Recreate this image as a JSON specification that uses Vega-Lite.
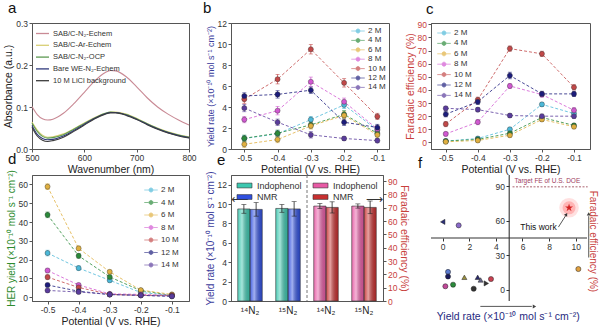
{
"$schema": "https://vega.github.io/schema/vega-lite/v6.json",
"padding": {"left": 3, "top": 0, "right": 0, "bottom": 0},
"background": "white",
"config": {
  "font": "Liberation Sans",
  "view": {"stroke": "#555", "strokeWidth": 1},
  "axis": {"grid": false, "labelFontSize": 8.5, "labelColor": "#333", "titleFontSize": 10.5, "titleFontWeight": "normal", "titleColor": "#222", "tickColor": "#555", "domainColor": "#555", "tickSize": 3, "labelPadding": 1.5, "titlePadding": 2, "titleLimit": 400, "labelFlush": false, "labelOverlap": false},
  "title": {"fontSize": 15, "fontWeight": "normal", "anchor": "start", "frame": "group", "offset": 3, "color": "#111"},
  "legend": {"labelFontSize": 8, "labelColor": "#333", "rowPadding": 1, "padding": 0, "labelOffset": 5}
},
"datasets": {
  "uv": [
    {"w":500,"s":"SAB/C-N₂-Echem","a":0.101},{"w":510,"s":"SAB/C-N₂-Echem","a":0.082},{"w":520,"s":"SAB/C-N₂-Echem","a":0.072},{"w":530,"s":"SAB/C-N₂-Echem","a":0.069},{"w":540,"s":"SAB/C-N₂-Echem","a":0.071},{"w":560,"s":"SAB/C-N₂-Echem","a":0.085},{"w":580,"s":"SAB/C-N₂-Echem","a":0.108},{"w":600,"s":"SAB/C-N₂-Echem","a":0.135},{"w":620,"s":"SAB/C-N₂-Echem","a":0.162},{"w":640,"s":"SAB/C-N₂-Echem","a":0.182},{"w":650,"s":"SAB/C-N₂-Echem","a":0.187},{"w":660,"s":"SAB/C-N₂-Echem","a":0.186},{"w":680,"s":"SAB/C-N₂-Echem","a":0.172},{"w":700,"s":"SAB/C-N₂-Echem","a":0.148},{"w":720,"s":"SAB/C-N₂-Echem","a":0.122},{"w":740,"s":"SAB/C-N₂-Echem","a":0.100},{"w":760,"s":"SAB/C-N₂-Echem","a":0.083},{"w":780,"s":"SAB/C-N₂-Echem","a":0.069},{"w":800,"s":"SAB/C-N₂-Echem","a":0.057},
    {"w":500,"s":"SAB/C-Ar-Echem","a":0.064},{"w":510,"s":"SAB/C-Ar-Echem","a":0.045},{"w":520,"s":"SAB/C-Ar-Echem","a":0.033},{"w":530,"s":"SAB/C-Ar-Echem","a":0.028},{"w":540,"s":"SAB/C-Ar-Echem","a":0.029},{"w":560,"s":"SAB/C-Ar-Echem","a":0.036},{"w":580,"s":"SAB/C-Ar-Echem","a":0.048},{"w":600,"s":"SAB/C-Ar-Echem","a":0.062},{"w":620,"s":"SAB/C-Ar-Echem","a":0.075},{"w":640,"s":"SAB/C-Ar-Echem","a":0.085},{"w":650,"s":"SAB/C-Ar-Echem","a":0.088},{"w":660,"s":"SAB/C-Ar-Echem","a":0.088},{"w":680,"s":"SAB/C-Ar-Echem","a":0.083},{"w":700,"s":"SAB/C-Ar-Echem","a":0.073},{"w":720,"s":"SAB/C-Ar-Echem","a":0.061},{"w":740,"s":"SAB/C-Ar-Echem","a":0.050},{"w":760,"s":"SAB/C-Ar-Echem","a":0.041},{"w":780,"s":"SAB/C-Ar-Echem","a":0.034},{"w":800,"s":"SAB/C-Ar-Echem","a":0.029},
    {"w":500,"s":"SAB/C-N₂-OCP","a":0.062},{"w":510,"s":"SAB/C-N₂-OCP","a":0.042},{"w":520,"s":"SAB/C-N₂-OCP","a":0.030},{"w":530,"s":"SAB/C-N₂-OCP","a":0.026},{"w":540,"s":"SAB/C-N₂-OCP","a":0.027},{"w":560,"s":"SAB/C-N₂-OCP","a":0.034},{"w":580,"s":"SAB/C-N₂-OCP","a":0.047},{"w":600,"s":"SAB/C-N₂-OCP","a":0.061},{"w":620,"s":"SAB/C-N₂-OCP","a":0.074},{"w":640,"s":"SAB/C-N₂-OCP","a":0.085},{"w":650,"s":"SAB/C-N₂-OCP","a":0.088},{"w":660,"s":"SAB/C-N₂-OCP","a":0.087},{"w":680,"s":"SAB/C-N₂-OCP","a":0.082},{"w":700,"s":"SAB/C-N₂-OCP","a":0.072},{"w":720,"s":"SAB/C-N₂-OCP","a":0.060},{"w":740,"s":"SAB/C-N₂-OCP","a":0.049},{"w":760,"s":"SAB/C-N₂-OCP","a":0.040},{"w":780,"s":"SAB/C-N₂-OCP","a":0.033},{"w":800,"s":"SAB/C-N₂-OCP","a":0.028},
    {"w":500,"s":"Bare WE-N₂-Echem","a":0.056},{"w":510,"s":"Bare WE-N₂-Echem","a":0.035},{"w":520,"s":"Bare WE-N₂-Echem","a":0.025},{"w":530,"s":"Bare WE-N₂-Echem","a":0.022},{"w":540,"s":"Bare WE-N₂-Echem","a":0.023},{"w":560,"s":"Bare WE-N₂-Echem","a":0.031},{"w":580,"s":"Bare WE-N₂-Echem","a":0.044},{"w":600,"s":"Bare WE-N₂-Echem","a":0.059},{"w":620,"s":"Bare WE-N₂-Echem","a":0.073},{"w":640,"s":"Bare WE-N₂-Echem","a":0.084},{"w":650,"s":"Bare WE-N₂-Echem","a":0.087},{"w":660,"s":"Bare WE-N₂-Echem","a":0.087},{"w":680,"s":"Bare WE-N₂-Echem","a":0.081},{"w":700,"s":"Bare WE-N₂-Echem","a":0.071},{"w":720,"s":"Bare WE-N₂-Echem","a":0.059},{"w":740,"s":"Bare WE-N₂-Echem","a":0.048},{"w":760,"s":"Bare WE-N₂-Echem","a":0.039},{"w":780,"s":"Bare WE-N₂-Echem","a":0.032},{"w":800,"s":"Bare WE-N₂-Echem","a":0.027},
    {"w":500,"s":"10 M LiCl background","a":0.052},{"w":510,"s":"10 M LiCl background","a":0.031},{"w":520,"s":"10 M LiCl background","a":0.021},{"w":530,"s":"10 M LiCl background","a":0.018},{"w":540,"s":"10 M LiCl background","a":0.020},{"w":560,"s":"10 M LiCl background","a":0.028},{"w":580,"s":"10 M LiCl background","a":0.042},{"w":600,"s":"10 M LiCl background","a":0.057},{"w":620,"s":"10 M LiCl background","a":0.072},{"w":640,"s":"10 M LiCl background","a":0.083},{"w":650,"s":"10 M LiCl background","a":0.086},{"w":660,"s":"10 M LiCl background","a":0.086},{"w":680,"s":"10 M LiCl background","a":0.080},{"w":700,"s":"10 M LiCl background","a":0.070},{"w":720,"s":"10 M LiCl background","a":0.058},{"w":740,"s":"10 M LiCl background","a":0.047},{"w":760,"s":"10 M LiCl background","a":0.038},{"w":780,"s":"10 M LiCl background","a":0.031},{"w":800,"s":"10 M LiCl background","a":0.026}
  ],
  "yield": [
    {"p":-0.5,"s":"2 M","v":1.0,"e":0.3},{"p":-0.4,"s":"2 M","v":1.45,"e":0.3},{"p":-0.3,"s":"2 M","v":2.8,"e":0.3},{"p":-0.2,"s":"2 M","v":4.2,"e":0.35},{"p":-0.1,"s":"2 M","v":1.8,"e":0.3},
    {"p":-0.5,"s":"4 M","v":1.02,"e":0.3},{"p":-0.4,"s":"4 M","v":1.5,"e":0.3},{"p":-0.3,"s":"4 M","v":2.3,"e":0.3},{"p":-0.2,"s":"4 M","v":3.3,"e":0.35},{"p":-0.1,"s":"4 M","v":1.5,"e":0.3},
    {"p":-0.5,"s":"6 M","v":0.45,"e":0.3},{"p":-0.4,"s":"6 M","v":0.9,"e":0.3},{"p":-0.3,"s":"6 M","v":2.2,"e":0.3},{"p":-0.2,"s":"6 M","v":3.2,"e":0.35},{"p":-0.1,"s":"6 M","v":1.35,"e":0.3},
    {"p":-0.5,"s":"8 M","v":2.8,"e":0.3},{"p":-0.4,"s":"8 M","v":3.65,"e":0.4},{"p":-0.3,"s":"8 M","v":6.4,"e":0.45},{"p":-0.2,"s":"8 M","v":4.5,"e":0.35},{"p":-0.1,"s":"8 M","v":1.9,"e":0.3},
    {"p":-0.5,"s":"10 M","v":4.75,"e":0.4},{"p":-0.4,"s":"10 M","v":6.65,"e":0.45},{"p":-0.3,"s":"10 M","v":9.5,"e":0.45},{"p":-0.2,"s":"10 M","v":6.3,"e":0.4},{"p":-0.1,"s":"10 M","v":3.1,"e":0.3},
    {"p":-0.5,"s":"12 M","v":5.05,"e":0.3},{"p":-0.4,"s":"12 M","v":5.2,"e":0.35},{"p":-0.3,"s":"12 M","v":5.6,"e":0.3},{"p":-0.2,"s":"12 M","v":2.55,"e":0.3},{"p":-0.1,"s":"12 M","v":2.05,"e":0.3},
    {"p":-0.5,"s":"14 M","v":3.9,"e":0.35},{"p":-0.4,"s":"14 M","v":2.55,"e":0.3},{"p":-0.3,"s":"14 M","v":1.35,"e":0.3},{"p":-0.2,"s":"14 M","v":1.0,"e":0.2},{"p":-0.1,"s":"14 M","v":0.8,"e":0.2}
  ],
  "fe": [
    {"p":-0.5,"s":"2 M","v":1,"e":1.5},{"p":-0.4,"s":"2 M","v":3,"e":1.5},{"p":-0.3,"s":"2 M","v":10,"e":1.5},{"p":-0.2,"s":"2 M","v":29,"e":1.5},{"p":-0.1,"s":"2 M","v":22,"e":1.5},
    {"p":-0.5,"s":"4 M","v":1,"e":1.5},{"p":-0.4,"s":"4 M","v":2.3,"e":1.5},{"p":-0.3,"s":"4 M","v":7,"e":1.5},{"p":-0.2,"s":"4 M","v":19,"e":1.5},{"p":-0.1,"s":"4 M","v":13,"e":1.5},
    {"p":-0.5,"s":"6 M","v":0.5,"e":1.5},{"p":-0.4,"s":"6 M","v":1.5,"e":1.5},{"p":-0.3,"s":"6 M","v":5.5,"e":1.5},{"p":-0.2,"s":"6 M","v":17.5,"e":1.5},{"p":-0.1,"s":"6 M","v":12,"e":1.5},
    {"p":-0.5,"s":"8 M","v":6.5,"e":1.5},{"p":-0.4,"s":"8 M","v":15.5,"e":2},{"p":-0.3,"s":"8 M","v":43,"e":2},{"p":-0.2,"s":"8 M","v":36.5,"e":2},{"p":-0.1,"s":"8 M","v":24.5,"e":2},
    {"p":-0.5,"s":"10 M","v":14,"e":2},{"p":-0.4,"s":"10 M","v":32.5,"e":2},{"p":-0.3,"s":"10 M","v":71.5,"e":2},{"p":-0.2,"s":"10 M","v":67.5,"e":2},{"p":-0.1,"s":"10 M","v":42,"e":2},
    {"p":-0.5,"s":"12 M","v":21.5,"e":2},{"p":-0.4,"s":"12 M","v":31,"e":2},{"p":-0.3,"s":"12 M","v":51,"e":2.5},{"p":-0.2,"s":"12 M","v":37,"e":2},{"p":-0.1,"s":"12 M","v":37,"e":2},
    {"p":-0.5,"s":"14 M","v":26,"e":1.5},{"p":-0.4,"s":"14 M","v":25,"e":1.5},{"p":-0.3,"s":"14 M","v":20.5,"e":1.5},{"p":-0.2,"s":"14 M","v":20,"e":1.5},{"p":-0.1,"s":"14 M","v":20,"e":1.5}
  ],
  "her": [
    {"p":-0.5,"s":"2 M","v":23.5,"e":1.5},{"p":-0.4,"s":"2 M","v":15.5,"e":1.2},{"p":-0.3,"s":"2 M","v":9,"e":1},{"p":-0.2,"s":"2 M","v":2.5,"e":0.8},{"p":-0.1,"s":"2 M","v":1,"e":0.5},
    {"p":-0.5,"s":"4 M","v":43.8,"e":1.5},{"p":-0.4,"s":"4 M","v":22,"e":1.2},{"p":-0.3,"s":"4 M","v":10.8,"e":1},{"p":-0.2,"s":"4 M","v":3.5,"e":0.8},{"p":-0.1,"s":"4 M","v":1,"e":0.5},
    {"p":-0.5,"s":"6 M","v":58.8,"e":1.5},{"p":-0.4,"s":"6 M","v":26,"e":1.2},{"p":-0.3,"s":"6 M","v":13.5,"e":1},{"p":-0.2,"s":"6 M","v":3.8,"e":0.8},{"p":-0.1,"s":"6 M","v":1.5,"e":0.5},
    {"p":-0.5,"s":"8 M","v":14.2,"e":1.2},{"p":-0.4,"s":"8 M","v":6.5,"e":1},{"p":-0.3,"s":"8 M","v":1.8,"e":0.8},{"p":-0.2,"s":"8 M","v":1.5,"e":0.5},{"p":-0.1,"s":"8 M","v":1,"e":0.5},
    {"p":-0.5,"s":"10 M","v":10.7,"e":1.2},{"p":-0.4,"s":"10 M","v":5.2,"e":1},{"p":-0.3,"s":"10 M","v":1.5,"e":0.8},{"p":-0.2,"s":"10 M","v":1,"e":0.5},{"p":-0.1,"s":"10 M","v":1,"e":0.5},
    {"p":-0.5,"s":"12 M","v":6.5,"e":1},{"p":-0.4,"s":"12 M","v":3.2,"e":0.8},{"p":-0.3,"s":"12 M","v":1.4,"e":0.6},{"p":-0.2,"s":"12 M","v":1,"e":0.5},{"p":-0.1,"s":"12 M","v":0.5,"e":0.4},
    {"p":-0.5,"s":"14 M","v":3.6,"e":0.8},{"p":-0.4,"s":"14 M","v":2.8,"e":0.8},{"p":-0.3,"s":"14 M","v":1.5,"e":0.6},{"p":-0.2,"s":"14 M","v":1,"e":0.5},{"p":-0.1,"s":"14 M","v":0.5,"e":0.4}
  ],
  "bars": [
    {"cat":"14Y","m":"Indophenol","k":"Y","v":9.5,"lo":9.05,"hi":9.95},
    {"cat":"14Y","m":"NMR","k":"Y","v":9.45,"lo":8.75,"hi":10.15},
    {"cat":"15Y","m":"Indophenol","k":"Y","v":9.55,"lo":9.15,"hi":9.95},
    {"cat":"15Y","m":"NMR","k":"Y","v":9.5,"lo":8.75,"hi":10.25},
    {"cat":"14F","m":"Indophenol","k":"F","v":71.2,"lo":69.3,"hi":73.1},
    {"cat":"14F","m":"NMR","k":"F","v":70.2,"lo":66.0,"hi":74.4},
    {"cat":"15F","m":"Indophenol","k":"F","v":71.2,"lo":69.6,"hi":72.8},
    {"cat":"15F","m":"NMR","k":"F","v":70.2,"lo":65.5,"hi":75.0}
  ],
  "fpts": [
    {"x":0,"y":59,"g":"A"},{"x":1.2,"y":56,"g":"B"},{"x":0.4,"y":15.5,"g":"C"},{"x":0.4,"y":11.5,"g":"D"},{"x":0.2,"y":3,"g":"E"},{"x":0.78,"y":4.4,"g":"F"},{"x":1.63,"y":10.8,"g":"G"},{"x":2.33,"y":0.9,"g":"H"},{"x":2.63,"y":10.8,"g":"I"},{"x":2.85,"y":8.5,"g":"J"},{"x":3.28,"y":5.5,"g":"K"},{"x":3.63,"y":9.3,"g":"L"},{"x":10.2,"y":18,"g":"M"}
  ]
},
"columns": 3,
"spacing": {"row": 26, "column": 42},
"bounds": "flush",
"resolve": {"scale": {"color": "independent", "shape": "independent"}, "legend": {"color": "independent", "shape": "independent"}},
"concat": [
   {
    "width": 157, "height": 126,
    "title": {"text": "a", "dx": -24},
    "data": {"name": "uv"},
    "mark": {"type": "line", "interpolate": "monotone", "strokeWidth": 1.1},
    "encoding": {
      "x": {"field": "w", "type": "quantitative", "scale": {"domain": [500, 800], "nice": false, "zero": false}, "axis": {"values": [500, 600, 700, 800], "title": "Wavenumber (nm)"}},
      "y": {"field": "a", "type": "quantitative", "scale": {"domain": [0, 0.3], "nice": false}, "axis": {"values": [0, 0.1, 0.2, 0.3], "format": ".1f", "title": "Absorbance (a.u.)"}},
      "color": {"field": "s", "type": "nominal", "scale": {"domain": ["SAB/C-N₂-Echem", "SAB/C-Ar-Echem", "SAB/C-N₂-OCP", "Bare WE-N₂-Echem", "10 M LiCl background"], "range": ["#c98a95", "#d8cf74", "#5d9a52", "#313a7c", "#3c3c3c"]}, "legend": {"title": null, "orient": "top-left", "offset": 3, "symbolType": "stroke", "symbolSize": 169, "symbolStrokeWidth": 1.3, "labelFontSize": 7.5, "rowPadding": 0.8, "labelOffset": 3}}
    }
   },
   {
    "width": 158, "height": 126,
    "title": {"text": "b", "dx": -28},
    "data": {"name": "yield"},
    "encoding": {
      "x": {"field": "p", "type": "quantitative", "scale": {"domain": [-0.54, -0.065], "nice": false, "zero": false}, "axis": {"values": [-0.5, -0.4, -0.3, -0.2, -0.1], "format": ".1f", "labelExpr": "replace(datum.label, '−', '-')", "title": "Potential (V vs. RHE)"}},
      "y": {"field": "v", "type": "quantitative", "scale": {"domain": [0, 12], "nice": false}, "axis": {"values": [0, 2, 4, 6, 8, 10, 12], "title": "Yield rate (×10⁻¹⁰ mol s⁻¹ cm⁻²)", "titleColor": "#3b3d9c", "titleFontSize": 9}}
    },
    "layer": [
      {"mark": {"type": "line", "strokeDash": [3, 2], "strokeWidth": 0.8}, "encoding": {"color": {"field": "s", "type": "nominal", "scale": {"domain": ["2 M", "4 M", "6 M", "8 M", "10 M", "12 M", "14 M"], "range": ["#4bb8d8", "#2a8a3a", "#e0b040", "#d258d2", "#c24848", "#1c1c7c", "#5a3c9c"]}}}},
      {"mark": {"type": "errorbar", "ticks": true, "size": 4, "thickness": 0.8}, "encoding": {"yError": {"field": "e"}, "color": {"field": "s", "type": "nominal"}}},
      {"mark": {"type": "point", "filled": true, "size": 26, "opacity": 1, "stroke": "#333", "strokeWidth": 0.4}, "encoding": {"color": {"field": "s", "type": "nominal", "legend": {"title": null, "orient": "top-right", "offset": 3, "symbolType": "M-1.5,0H-0.5M0.5,0H1.5M-0.45,0A0.45,0.45 0 1 0 0.45,0A0.45,0.45 0 1 0 -0.45,0Z", "symbolSize": 81, "symbolStrokeColor": "#666", "symbolStrokeWidth": 0.8, "rowPadding": 0.4}}}}
    ]
   },
   {
    "width": 159, "height": 126,
    "title": {"text": "c", "dx": -5},
    "data": {"name": "fe"},
    "encoding": {
      "x": {"field": "p", "type": "quantitative", "scale": {"domain": [-0.546, -0.05], "nice": false, "zero": false}, "axis": {"values": [-0.5, -0.4, -0.3, -0.2, -0.1], "format": ".1f", "labelExpr": "replace(datum.label, '−', '-')", "title": "Potential (V vs. RHE)"}},
      "y": {"field": "v", "type": "quantitative", "scale": {"domain": [-5, 91], "nice": false, "zero": false}, "axis": {"values": [0, 10, 20, 30, 40, 50, 60, 70, 80, 90], "title": "Faradaic efficiency (%)", "titleColor": "#c8403c", "labelColor": "#c8403c"}}
    },
    "layer": [
      {"mark": {"type": "line", "strokeDash": [3, 2], "strokeWidth": 0.8}, "encoding": {"color": {"field": "s", "type": "nominal", "scale": {"domain": ["2 M", "4 M", "6 M", "8 M", "10 M", "12 M", "14 M"], "range": ["#4bb8d8", "#2a8a3a", "#e0b040", "#d258d2", "#c24848", "#1c1c7c", "#5a3c9c"]}}}},
      {"mark": {"type": "errorbar", "ticks": true, "size": 4, "thickness": 0.8}, "encoding": {"yError": {"field": "e"}, "color": {"field": "s", "type": "nominal"}}},
      {"mark": {"type": "point", "filled": true, "size": 26, "opacity": 1, "stroke": "#333", "strokeWidth": 0.4}, "encoding": {"color": {"field": "s", "type": "nominal", "legend": {"title": null, "orient": "top-left", "offset": 5, "symbolType": "M-1.5,0H-0.5M0.5,0H1.5M-0.45,0A0.45,0.45 0 1 0 0.45,0A0.45,0.45 0 1 0 -0.45,0Z", "symbolSize": 81, "symbolStrokeColor": "#666", "symbolStrokeWidth": 0.8, "rowPadding": 1.4, "symbolOffset": 3}}}}
    ]
   },
   {
    "width": 157, "height": 126,
    "title": {"text": "d", "dx": -24},
    "data": {"name": "her"},
    "encoding": {
      "x": {"field": "p", "type": "quantitative", "scale": {"domain": [-0.55, -0.045], "nice": false, "zero": false}, "axis": {"values": [-0.5, -0.4, -0.3, -0.2, -0.1], "format": ".1f", "labelExpr": "replace(datum.label, '−', '-')", "title": "Potential (V vs. RHE)"}},
      "y": {"field": "v", "type": "quantitative", "scale": {"domain": [-2, 65], "nice": false, "zero": false}, "axis": {"values": [0, 10, 20, 30, 40, 50, 60], "title": "HER yield (×10⁻¹⁰ mol s⁻¹ cm⁻²)", "titleColor": "#2e8b2e", "titleFontSize": 10}}
    },
    "layer": [
      {"mark": {"type": "line", "strokeDash": [3, 2], "strokeWidth": 0.8}, "encoding": {"color": {"field": "s", "type": "nominal", "scale": {"domain": ["2 M", "4 M", "6 M", "8 M", "10 M", "12 M", "14 M"], "range": ["#4bb8d8", "#2a8a3a", "#e0b040", "#d258d2", "#c24848", "#1c1c7c", "#5a3c9c"]}}}},
      {"mark": {"type": "errorbar", "ticks": true, "size": 4, "thickness": 0.8}, "encoding": {"yError": {"field": "e"}, "color": {"field": "s", "type": "nominal"}}},
      {"mark": {"type": "point", "filled": true, "size": 26, "opacity": 1, "stroke": "#333", "strokeWidth": 0.4}, "encoding": {"color": {"field": "s", "type": "nominal", "legend": {"title": null, "orient": "top-right", "offset": 10, "symbolType": "M-1.5,0H-0.5M0.5,0H1.5M-0.45,0A0.45,0.45 0 1 0 0.45,0A0.45,0.45 0 1 0 -0.45,0Z", "symbolSize": 81, "symbolStrokeColor": "#666", "symbolStrokeWidth": 0.8, "rowPadding": 3.5}}}}
    ]
   },
   {
    "width": 152, "height": 126,
    "title": {"text": "e", "dx": -14},
    "data": {"name": "bars"},
    "encoding": {
      "x": {"field": "cat", "type": "nominal", "scale": {"domain": ["14Y", "15Y", "14F", "15F"], "paddingInner": 0, "paddingOuter": 0}, "axis": {"title": null, "labelAngle": 0, "labelFontSize": 10, "labelColor": "#222", "ticks": false, "labelPadding": 4, "labelExpr": "(datum.value == '14Y' || datum.value == '14F') ? '¹⁴N₂' : '¹⁵N₂'"}}
    },
    "layer": [
      {
       "transform": [{"filter": "datum.k == 'Y'"}],
       "layer": [
         {"mark": {"type": "bar"}, "encoding": {
            "xOffset": {"field": "m", "type": "nominal", "scale": {"domain": ["Indophenol", "NMR"], "paddingInner": 0, "paddingOuter": 0.55}},
            "y": {"field": "v", "type": "quantitative", "scale": {"domain": [0, 13], "nice": false}, "axis": {"orient": "left", "values": [0, 2, 4, 6, 8, 10, 12], "labelOverlap": false, "title": "Yield rate (×10⁻¹⁰ mol s⁻¹ cm⁻²)", "titleColor": "#3b3d9c", "titleFontSize": 10}},
            "color": {"field": "m", "type": "nominal", "scale": {"domain": ["Indophenol", "NMR"], "range": ["#3cc8b0", "#3050e0"]}, "legend": {"title": null, "orient": "top-left", "offset": 5, "symbolType": "M-1.5,-0.48H1.5V0.48H-1.5Z", "symbolSize": 100, "symbolStrokeColor": "#333", "symbolStrokeWidth": 0.6, "labelFontSize": 9, "labelOffset": 7, "rowPadding": 0.5, "symbolOffset": 3}}}},
         {"mark": {"type": "bar", "stroke": "#333", "strokeWidth": 0.6, "fill": {"gradient": "linear", "x1": 0, "x2": 1, "y1": 0, "y2": 0, "stops": [{"offset": 0, "color": "rgba(255,255,255,0.1)"}, {"offset": 0.35, "color": "rgba(255,255,255,0.55)"}, {"offset": 1, "color": "rgba(0,0,0,0.12)"}]}}, "encoding": {
            "xOffset": {"field": "m", "type": "nominal"},
            "y": {"field": "v", "type": "quantitative", "scale": {"domain": [0, 13], "nice": false}, "axis": {"orient": "left", "values": [0, 2, 4, 6, 8, 10, 12], "labelOverlap": false, "title": "Yield rate (×10⁻¹⁰ mol s⁻¹ cm⁻²)", "titleColor": "#3b3d9c", "titleFontSize": 10}}}},
         {"mark": {"type": "rule", "color": "#222", "strokeWidth": 0.8}, "encoding": {
            "xOffset": {"field": "m", "type": "nominal"},
            "y": {"field": "lo", "type": "quantitative", "scale": {"domain": [0, 13], "nice": false}, "axis": {"orient": "left", "values": [0, 2, 4, 6, 8, 10, 12], "labelOverlap": false, "title": "Yield rate (×10⁻¹⁰ mol s⁻¹ cm⁻²)", "titleColor": "#3b3d9c", "titleFontSize": 10}}, "y2": {"field": "hi"}}},
         {"mark": {"type": "tick", "color": "#222", "thickness": 0.8, "size": 5}, "encoding": {
            "xOffset": {"field": "m", "type": "nominal"},
            "y": {"field": "lo", "type": "quantitative", "scale": {"domain": [0, 13], "nice": false}, "axis": {"orient": "left", "values": [0, 2, 4, 6, 8, 10, 12], "labelOverlap": false, "title": "Yield rate (×10⁻¹⁰ mol s⁻¹ cm⁻²)", "titleColor": "#3b3d9c", "titleFontSize": 10}}}},
         {"mark": {"type": "tick", "color": "#222", "thickness": 0.8, "size": 5}, "encoding": {
            "xOffset": {"field": "m", "type": "nominal"},
            "y": {"field": "hi", "type": "quantitative", "scale": {"domain": [0, 13], "nice": false}, "axis": {"orient": "left", "values": [0, 2, 4, 6, 8, 10, 12], "labelOverlap": false, "title": "Yield rate (×10⁻¹⁰ mol s⁻¹ cm⁻²)", "titleColor": "#3b3d9c", "titleFontSize": 10}}}},
         {"data": {"values": [{"t": "⟵", "v": 10.5}]}, "mark": {"type": "text", "align": "left", "baseline": "middle", "font": "DejaVu Sans", "fontSize": 12, "color": "#333"}, "encoding": {
            "x": {"datum": "14Y", "type": "nominal", "bandPosition": 0},
            "y": {"field": "v", "type": "quantitative", "scale": {"domain": [0, 13], "nice": false}, "axis": {"orient": "left", "values": [0, 2, 4, 6, 8, 10, 12], "labelOverlap": false, "title": "Yield rate (×10⁻¹⁰ mol s⁻¹ cm⁻²)", "titleColor": "#3b3d9c", "titleFontSize": 10}},
            "text": {"field": "t"}}}
       ]
      },
      {
       "transform": [{"filter": "datum.k == 'F'"}],
       "layer": [
         {"mark": {"type": "bar"}, "encoding": {
            "xOffset": {"field": "m", "type": "nominal", "scale": {"domain": ["Indophenol", "NMR"], "paddingInner": 0, "paddingOuter": 0.55}},
            "y": {"field": "v", "type": "quantitative", "scale": {"domain": [0, 94.5], "nice": false}, "axis": {"orient": "right", "values": [0, 10, 20, 30, 40, 50, 60, 70, 80, 90], "labelOverlap": false, "title": "Faradaic efficiency (%)", "titleAngle": 90, "titleColor": "#c8403c", "labelColor": "#c8403c"}},
            "color": {"field": "m", "type": "nominal", "scale": {"domain": ["Indophenol", "NMR"], "range": ["#e85aa5", "#c83030"]}, "legend": {"title": null, "orient": "top-right", "offset": 5, "symbolType": "M-1.5,-0.48H1.5V0.48H-1.5Z", "symbolSize": 100, "symbolStrokeColor": "#333", "symbolStrokeWidth": 0.6, "labelFontSize": 9, "labelOffset": 7, "rowPadding": 0.5, "symbolOffset": 3}}}},
         {"mark": {"type": "bar", "stroke": "#333", "strokeWidth": 0.6, "fill": {"gradient": "linear", "x1": 0, "x2": 1, "y1": 0, "y2": 0, "stops": [{"offset": 0, "color": "rgba(255,255,255,0.1)"}, {"offset": 0.35, "color": "rgba(255,255,255,0.55)"}, {"offset": 1, "color": "rgba(0,0,0,0.12)"}]}}, "encoding": {
            "xOffset": {"field": "m", "type": "nominal"},
            "y": {"field": "v", "type": "quantitative", "scale": {"domain": [0, 94.5], "nice": false}, "axis": {"orient": "right", "values": [0, 10, 20, 30, 40, 50, 60, 70, 80, 90], "labelOverlap": false, "title": "Faradaic efficiency (%)", "titleAngle": 90, "titleColor": "#c8403c", "labelColor": "#c8403c"}}}},
         {"mark": {"type": "rule", "color": "#222", "strokeWidth": 0.8}, "encoding": {
            "xOffset": {"field": "m", "type": "nominal"},
            "y": {"field": "lo", "type": "quantitative", "scale": {"domain": [0, 94.5], "nice": false}, "axis": {"orient": "right", "values": [0, 10, 20, 30, 40, 50, 60, 70, 80, 90], "labelOverlap": false, "title": "Faradaic efficiency (%)", "titleAngle": 90, "titleColor": "#c8403c", "labelColor": "#c8403c"}}, "y2": {"field": "hi"}}},
         {"mark": {"type": "tick", "color": "#222", "thickness": 0.8, "size": 5}, "encoding": {
            "xOffset": {"field": "m", "type": "nominal"},
            "y": {"field": "lo", "type": "quantitative", "scale": {"domain": [0, 94.5], "nice": false}, "axis": {"orient": "right", "values": [0, 10, 20, 30, 40, 50, 60, 70, 80, 90], "labelOverlap": false, "title": "Faradaic efficiency (%)", "titleAngle": 90, "titleColor": "#c8403c", "labelColor": "#c8403c"}}}},
         {"mark": {"type": "tick", "color": "#222", "thickness": 0.8, "size": 5}, "encoding": {
            "xOffset": {"field": "m", "type": "nominal"},
            "y": {"field": "hi", "type": "quantitative", "scale": {"domain": [0, 94.5], "nice": false}, "axis": {"orient": "right", "values": [0, 10, 20, 30, 40, 50, 60, 70, 80, 90], "labelOverlap": false, "title": "Faradaic efficiency (%)", "titleAngle": 90, "titleColor": "#c8403c", "labelColor": "#c8403c"}}}},
         {"data": {"values": [{"t": "⟶", "v": 76.3}]}, "mark": {"type": "text", "align": "right", "baseline": "middle", "font": "DejaVu Sans", "fontSize": 12, "color": "#333"}, "encoding": {
            "x": {"datum": "15F", "type": "nominal", "bandPosition": 1},
            "y": {"field": "v", "type": "quantitative", "scale": {"domain": [0, 94.5], "nice": false}, "axis": {"orient": "right", "values": [0, 10, 20, 30, 40, 50, 60, 70, 80, 90], "labelOverlap": false, "title": "Faradaic efficiency (%)", "titleAngle": 90, "titleColor": "#c8403c", "labelColor": "#c8403c"}},
            "text": {"field": "t"}}},
         {"data": {"values": [{"c": "15Y"}]}, "mark": {"type": "rule", "color": "#666", "strokeDash": [3, 2], "strokeWidth": 0.9}, "encoding": {
            "x": {"field": "c", "type": "nominal", "bandPosition": 1}}}
       ]
      }
    ],
    "resolve": {"scale": {"y": "independent", "color": "independent"}, "legend": {"color": "independent"}}
   },
   {
    "width": 156, "height": 126,
    "title": {"text": "f", "dx": -13},
    "view": {"stroke": null},
    "encoding": {
      "x": {"field": "x", "type": "quantitative", "scale": {"domain": [-0.88, 10.85], "nice": false, "zero": false}, "axis": {"values": [0, 2, 4, 6, 8, 10], "offset": -63, "title": null, "domain": false, "tickColor": "#333", "labelOverlap": false}},
      "y": {"field": "y", "type": "quantitative", "scale": {"domain": [-9.8, 99.8], "nice": false, "zero": false}, "axis": {"values": [0, 30, 60, 90], "offset": -78, "title": null, "domain": false, "tickColor": "#333", "labelOverlap": false}}
    },
    "layer": [
      {"data": {"values": [{"x": -0.88, "x2": 10.85, "y": 45}]}, "mark": {"type": "rule", "color": "#333", "strokeWidth": 1.1}, "encoding": {"x2": {"field": "x2"}}},
      {"data": {"values": [{"x": 5, "y": -9.8, "y2": 99.8}]}, "mark": {"type": "rule", "color": "#333", "strokeWidth": 1.1}, "encoding": {"y2": {"field": "y2"}}},
      {"data": {"values": [{"x": 9.5, "y": 71.3}]}, "mark": {"type": "point", "filled": true, "size": 380, "color": "#ff3030", "opacity": 0.15, "strokeWidth": 0}},
      {"data": {"values": [{"x": 9.5, "y": 71.3}]}, "mark": {"type": "point", "filled": true, "size": 170, "color": "#ff3030", "opacity": 0.25, "strokeWidth": 0}},
      {"data": {"values": [{"x": 9.5, "y": 71.3}]}, "mark": {"type": "point", "filled": true, "size": 70, "color": "#d42020", "opacity": 1, "shape": "M0,-1L0.2245,-0.309L0.951,-0.309L0.363,0.118L0.588,0.809L0,0.382L-0.588,0.809L-0.363,0.118L-0.951,-0.309L-0.2245,-0.309Z"}},
      {"data": {"name": "fpts"}, "mark": {"type": "point", "filled": true, "size": 26, "opacity": 1, "stroke": "#222", "strokeWidth": 0.5}, "encoding": {
         "shape": {"field": "g", "type": "nominal", "scale": {"domain": ["A","B","C","D","E","F","G","H","I","J","K","L","M"], "range": ["triangle-left","circle","circle","circle","circle","circle","triangle-up","circle","triangle-up","triangle-up","triangle-right","circle","circle"]}, "legend": null},
         "color": {"field": "g", "type": "nominal", "scale": {"domain": ["A","B","C","D","E","F","G","H","I","J","K","L","M"], "range": ["#2b2f7a","#8a6ac8","#5a7ad0","#1a1a5a","#c04898","#2a8a3a","#9a9040","#333333","#2a2a6a","#666688","#333333","#c84050","#e0a040"]}, "legend": null}}},
      {"data": {"values": [{"x": 5.25, "x2": 10.9, "y": 89.5}]}, "mark": {"type": "rule", "color": "#a05060", "strokeDash": [2, 1.5], "strokeWidth": 0.9}, "encoding": {"x2": {"field": "x2"}}},
      {"data": {"values": [{"x": 5.4, "y": 92, "t": "Target FE of U.S. DOE"}]}, "mark": {"type": "text", "align": "left", "baseline": "bottom", "fontSize": 6.5, "color": "#a04060"}, "encoding": {"text": {"field": "t"}}},
      {"data": {"values": [{"x": 7.2, "y": 54.7, "t": "This work"}]}, "mark": {"type": "text", "align": "center", "baseline": "middle", "fontSize": 8.5, "color": "#111"}, "encoding": {"text": {"field": "t"}}},
      {"data": {"values": [{"x": 8.7, "y": 54.5, "x2": 9.25, "y2": 64.5}]}, "mark": {"type": "rule", "color": "#444", "strokeWidth": 0.9}, "encoding": {"x2": {"field": "x2"}, "y2": {"field": "y2"}}},
      {"data": {"values": [{"x": 2.83, "x2": 6.7, "y": -14.5}]}, "mark": {"type": "rule", "color": "#444", "strokeWidth": 0.9}, "encoding": {"x2": {"field": "x2"}}},
      {"data": {"values": [{"x": 10.98, "y": 28, "y2": 64}]}, "mark": {"type": "rule", "color": "#444", "strokeWidth": 0.9}, "encoding": {"y2": {"field": "y2"}}},
      {"data": {"values": [{"x": 9.3, "y": 65.5}]}, "mark": {"type": "point", "shape": "triangle-up", "angle": 32, "filled": true, "size": 14, "color": "#333", "opacity": 1}},
      {"data": {"values": [{"x": 6.9, "y": -14.5}]}, "mark": {"type": "point", "shape": "triangle-right", "filled": true, "size": 16, "color": "#444", "opacity": 1}},
      {"data": {"values": [{"x": 10.98, "y": 66}]}, "mark": {"type": "point", "shape": "triangle-up", "filled": true, "size": 16, "color": "#444", "opacity": 1}},
      {"data": {"values": [{"x": 11.32, "y": 42, "t": "Faradaic efficiency (%)"}]}, "mark": {"type": "text", "angle": 90, "align": "center", "baseline": "middle", "fontSize": 10, "color": "#c8403c"}, "encoding": {"text": {"field": "t"}}},
      {"data": {"values": [{"x": 4.93, "y": -23.5, "t": "Yield rate (×10⁻¹⁰ mol s⁻¹ cm⁻²)"}]}, "mark": {"type": "text", "align": "center", "baseline": "middle", "fontSize": 10.5, "color": "#262a80"}, "encoding": {"text": {"field": "t"}}}
    ]
   }
]
}
